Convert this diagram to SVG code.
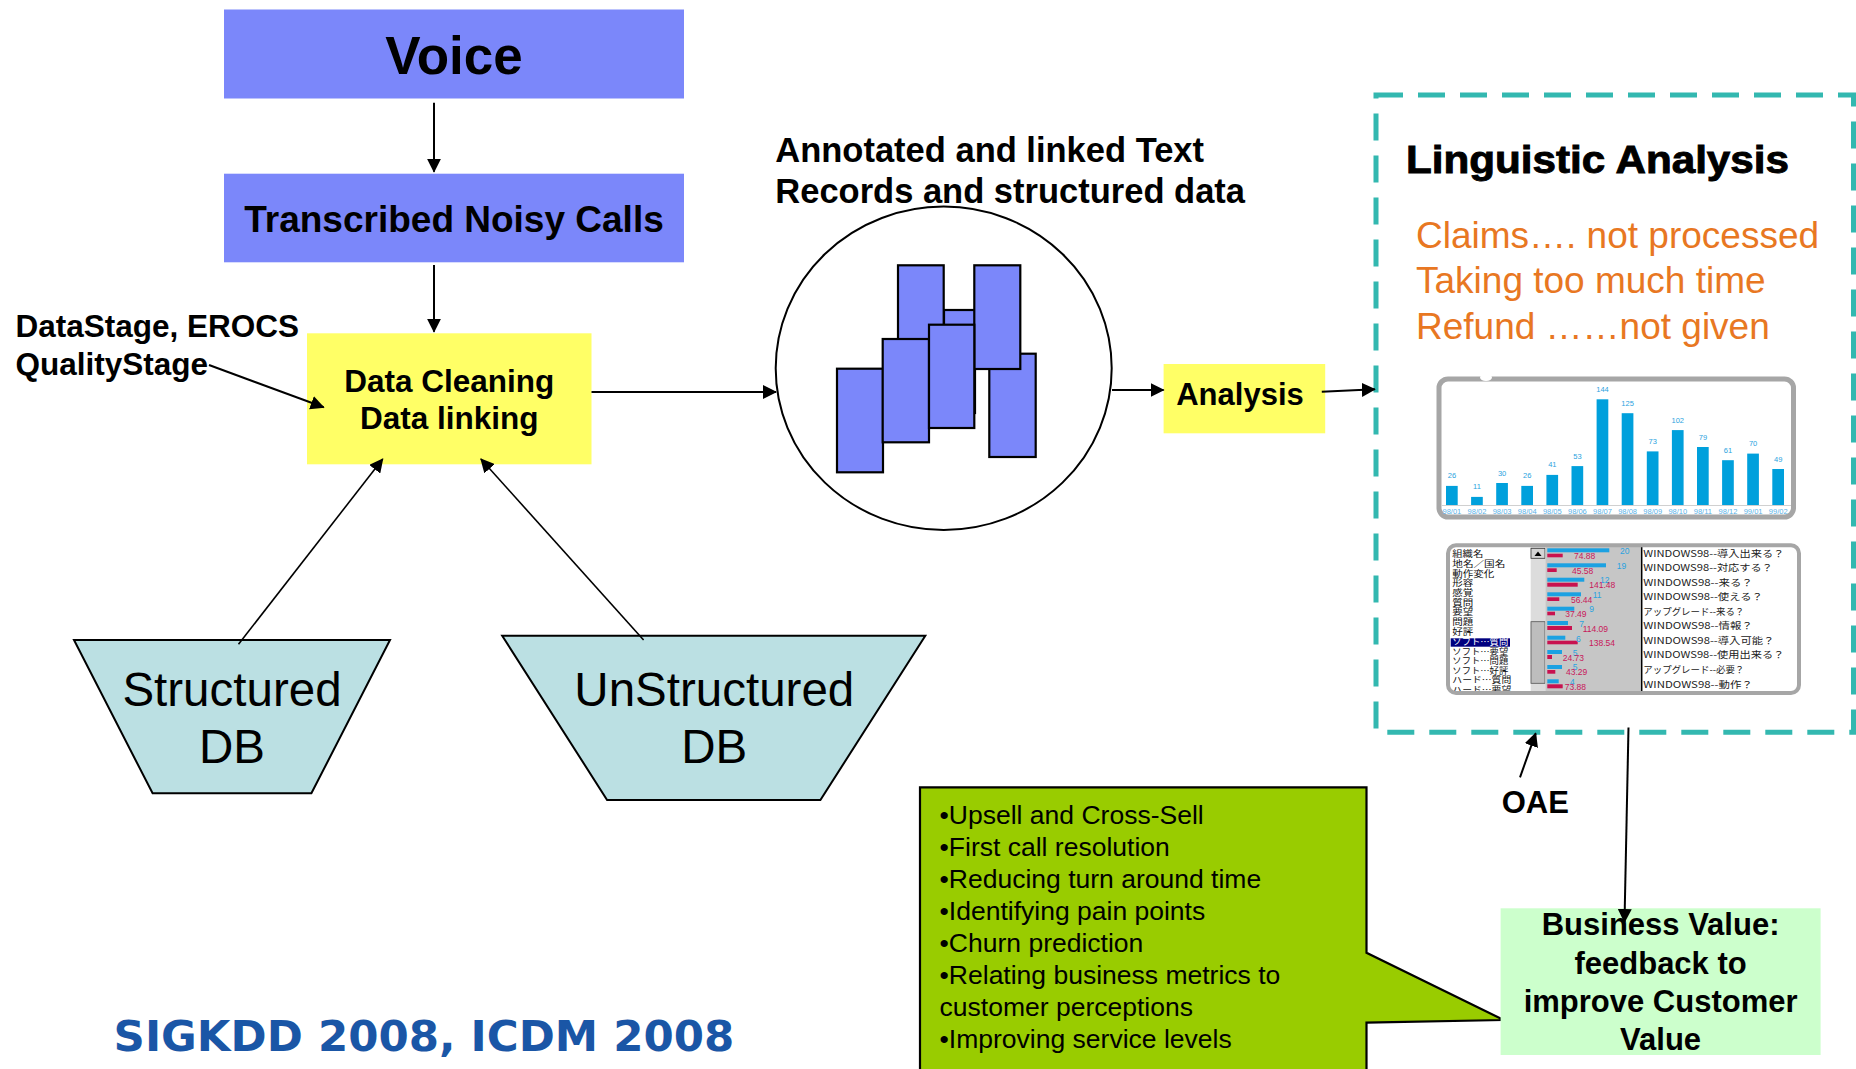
<svg xmlns="http://www.w3.org/2000/svg" width="1856" height="1069" viewBox="0 0 1856 1069">
  <style>
    .b { font-family: "Liberation Sans", Arial, sans-serif; font-weight: bold; fill: #000; }
    .r { font-family: "Liberation Sans", Arial, sans-serif; fill: #000; }
    .jp { font-family: "Noto Sans CJK JP", "Liberation Sans", sans-serif; }
    .blue { fill: #7b87fa; }
    .yellow { fill: #ffff66; }
    .db { fill: #bbe0e3; stroke: #000; stroke-width: 2; }
    .rec { fill: #7b87fa; stroke: #000; stroke-width: 2.2; }
    .ln { stroke: #000; stroke-width: 2; fill: none; }
    .thin { stroke: #000; stroke-width: 1.6; fill: none; }
    .orange { font-family: "Liberation Sans", Arial, sans-serif; fill: #e87722; font-size: 37px; }
    .bar { fill: #00a0dc; }
    .bv { font-family: "Liberation Sans", Arial, sans-serif; fill: #2aa3e0; font-size: 7.5px; text-anchor: middle; }
    .bx { font-family: "Liberation Sans", Arial, sans-serif; fill: #5ab2e8; font-size: 7.5px; text-anchor: middle; }
    .li { font-size: 8.6px; fill: #111; }
    .tb { fill: #1ba1e2; }
    .tr { fill: #c8124f; }
    .nb { font-family: "Liberation Sans", Arial, sans-serif; font-size: 8.5px; fill: #2aa3e0; }
    .nr { font-family: "Liberation Sans", Arial, sans-serif; font-size: 8.5px; fill: #c8185a; }
    .q { font-size: 9.5px; fill: #222; }
    .gl { font-size: 26.5px; }
  </style>
  <defs>
    <marker id="arr" markerWidth="14" markerHeight="14" refX="13" refY="7" orient="auto" markerUnits="userSpaceOnUse">
      <path d="M0,0 L14,7 L0,14 z" fill="#000"/>
    </marker>
    <clipPath id="tblclip">
      <rect x="1448" y="546" width="351" height="147"/>
    </clipPath>
  </defs>

  <rect width="1856" height="1069" fill="#fff"/>

  <!-- Voice -->
  <g id="voice">
    <rect class="blue" x="224" y="9.5" width="460" height="89"/>
    <text class="b" x="454" y="74" font-size="53" text-anchor="middle">Voice</text>
  </g>

  <!-- Transcribed Noisy Calls -->
  <g id="transcribed">
    <rect class="blue" x="224" y="173.7" width="460" height="88.6"/>
    <text class="b" x="454" y="231.7" font-size="37" text-anchor="middle">Transcribed Noisy Calls</text>
  </g>

  <!-- Data Cleaning / Data linking -->
  <g id="cleaning">
    <rect class="yellow" x="307" y="333.3" width="284.5" height="131"/>
    <text class="b" x="449.3" y="392" font-size="31.5" text-anchor="middle">Data Cleaning</text>
    <text class="b" x="449.3" y="429" font-size="31.5" text-anchor="middle">Data linking</text>
  </g>

  <!-- Tool label -->
  <g id="tools">
    <text class="b" x="15.5" y="337.3" font-size="31.5">DataStage, EROCS</text>
    <text class="b" x="15.5" y="375" font-size="31.5">QualityStage</text>
  </g>

  <!-- Structured DB -->
  <g id="structured-db">
    <polygon class="db" points="74,640 390,640 311.4,793.3 152.6,793.3"/>
    <text class="r" x="232" y="706" font-size="47.5" text-anchor="middle">Structured</text>
    <text class="r" x="232" y="763" font-size="47.5" text-anchor="middle">DB</text>
  </g>

  <!-- UnStructured DB -->
  <g id="unstructured-db">
    <polygon class="db" points="502.2,635.7 925.3,635.7 820.4,800 607.1,800"/>
    <text class="r" x="714.3" y="706" font-size="47.5" text-anchor="middle">UnStructured</text>
    <text class="r" x="714.3" y="763.3" font-size="47.5" text-anchor="middle">DB</text>
  </g>

  <!-- Annotated records -->
  <g id="records">
    <text class="b" x="775.3" y="161.7" font-size="34.5">Annotated and linked Text</text>
    <text class="b" x="775.3" y="202.7" font-size="34.5">Records and structured data</text>
    <ellipse cx="943.7" cy="368.3" rx="168" ry="161.7" fill="#fff" stroke="#000" stroke-width="2"/>
    <rect class="rec" x="944" y="310" width="31" height="103"/>
    <rect class="rec" x="898" y="265.3" width="45.7" height="140"/>
    <rect class="rec" x="989.3" y="353.7" width="46.4" height="103.3"/>
    <rect class="rec" x="974.3" y="265.3" width="46" height="103.7"/>
    <rect class="rec" x="837" y="368.7" width="46" height="103.6"/>
    <rect class="rec" x="882.7" y="339" width="46.3" height="103.3"/>
    <rect class="rec" x="929" y="324.7" width="45.3" height="103.3"/>
  </g>

  <!-- Analysis -->
  <g id="analysis">
    <rect class="yellow" x="1163.6" y="364" width="161.6" height="69.3"/>
    <text class="b" x="1240" y="405" font-size="31" text-anchor="middle">Analysis</text>
  </g>

  <!-- Linguistic Analysis panel -->
  <g id="linguistic">
    <rect x="1376" y="95" width="477.5" height="637.3" fill="none" stroke="#33b8b0" stroke-width="5" stroke-dasharray="27 15"/>
    <text class="b" x="1406" y="173.3" font-size="38" textLength="383" lengthAdjust="spacingAndGlyphs" stroke="#000" stroke-width="0.9">Linguistic Analysis</text>
    <text class="orange" x="1416" y="247.7">Claims…. not processed</text>
    <text class="orange" x="1416" y="293.3">Taking too much time</text>
    <text class="orange" x="1416" y="338.5">Refund ……not given</text>

    <!-- monthly bar chart -->
    <g id="chart">
      <rect x="1439" y="379" width="354.5" height="138" rx="9" fill="#fff" stroke="#a6a6a6" stroke-width="5"/>
      <ellipse cx="1486" cy="377.5" rx="6" ry="3.5" fill="#fff"/>
      <line x1="1442" y1="505.5" x2="1791" y2="505.5" stroke="#d0d0d0" stroke-width="1"/>
      <rect class="bar" x="1446" y="485.9" width="11.7" height="19.1"/>
      <rect class="bar" x="1471.1" y="496.9" width="11.7" height="8.1"/>
      <rect class="bar" x="1496.2" y="483" width="11.7" height="22"/>
      <rect class="bar" x="1521.3" y="485.9" width="11.7" height="19.1"/>
      <rect class="bar" x="1546.4" y="474.9" width="11.7" height="30.1"/>
      <rect class="bar" x="1571.5" y="466.1" width="11.7" height="38.9"/>
      <rect class="bar" x="1596.6" y="399.3" width="11.7" height="105.7"/>
      <rect class="bar" x="1621.7" y="413.2" width="11.7" height="91.8"/>
      <rect class="bar" x="1646.8" y="451.4" width="11.7" height="53.6"/>
      <rect class="bar" x="1671.9" y="430.1" width="11.7" height="74.9"/>
      <rect class="bar" x="1697" y="447" width="11.7" height="58"/>
      <rect class="bar" x="1722.1" y="460.2" width="11.7" height="44.8"/>
      <rect class="bar" x="1747.2" y="453.6" width="11.7" height="51.4"/>
      <rect class="bar" x="1772.3" y="469" width="11.7" height="36"/>
      <text class="bv" x="1451.9" y="478.4">26</text>
      <text class="bv" x="1477" y="489.4">11</text>
      <text class="bv" x="1502.1" y="475.5">30</text>
      <text class="bv" x="1527.2" y="478.4">26</text>
      <text class="bv" x="1552.3" y="467.4">41</text>
      <text class="bv" x="1577.4" y="458.6">53</text>
      <text class="bv" x="1602.5" y="391.8">144</text>
      <text class="bv" x="1627.6" y="405.7">125</text>
      <text class="bv" x="1652.7" y="443.9">73</text>
      <text class="bv" x="1677.8" y="422.6">102</text>
      <text class="bv" x="1702.9" y="439.5">79</text>
      <text class="bv" x="1728" y="452.7">61</text>
      <text class="bv" x="1753.1" y="446.1">70</text>
      <text class="bv" x="1778.2" y="461.5">49</text>
      <text class="bx" x="1451.9" y="514">98/01</text>
      <text class="bx" x="1477" y="514">98/02</text>
      <text class="bx" x="1502.1" y="514">98/03</text>
      <text class="bx" x="1527.2" y="514">98/04</text>
      <text class="bx" x="1552.3" y="514">98/05</text>
      <text class="bx" x="1577.4" y="514">98/06</text>
      <text class="bx" x="1602.5" y="514">98/07</text>
      <text class="bx" x="1627.6" y="514">98/08</text>
      <text class="bx" x="1652.7" y="514">98/09</text>
      <text class="bx" x="1677.8" y="514">98/10</text>
      <text class="bx" x="1702.9" y="514">98/11</text>
      <text class="bx" x="1728" y="514">98/12</text>
      <text class="bx" x="1753.1" y="514">99/01</text>
      <text class="bx" x="1778.2" y="514">99/02</text>
    </g>

    <!-- keyword frequency table -->
    <g id="table">
      <rect x="1448" y="545.3" width="351" height="147.7" rx="8" fill="#fff"/>
      <g clip-path="url(#tblclip)">
        <rect x="1530.7" y="546" width="14.6" height="147" fill="#dcdcdc"/>
        <rect x="1531" y="548.3" width="14" height="10" fill="#d4d4d4" stroke="#333" stroke-width="0.8"/>
        <path d="M1534.5,556 L1538,551.5 L1541.5,556 z" fill="#000"/>
        <rect x="1531" y="621.7" width="14" height="61.6" fill="#bdbdbd" stroke="#555" stroke-width="0.8"/>
        <rect x="1545.3" y="546" width="96.4" height="147" fill="#c6c6c6"/>
        <line x1="1641.7" y1="546" x2="1641.7" y2="693" stroke="#000" stroke-width="1.5"/>
        <rect x="1450.7" y="638.3" width="59.3" height="8.4" fill="#00007f"/>

        <text class="jp li" x="1452.3" y="557.4" textLength="31" lengthAdjust="spacingAndGlyphs">組織名</text>
        <text class="jp li" x="1452.3" y="567" textLength="53" lengthAdjust="spacingAndGlyphs">地名／国名</text>
        <text class="jp li" x="1452.3" y="576.7" textLength="42" lengthAdjust="spacingAndGlyphs">動作変化</text>
        <text class="jp li" x="1452.3" y="586.3" textLength="21" lengthAdjust="spacingAndGlyphs">形容</text>
        <text class="jp li" x="1452.3" y="596" textLength="21" lengthAdjust="spacingAndGlyphs">感覚</text>
        <text class="jp li" x="1452.3" y="605.6" textLength="21" lengthAdjust="spacingAndGlyphs">質問</text>
        <text class="jp li" x="1452.3" y="615.3" textLength="21" lengthAdjust="spacingAndGlyphs">要望</text>
        <text class="jp li" x="1452.3" y="625" textLength="21" lengthAdjust="spacingAndGlyphs">問題</text>
        <text class="jp li" x="1452.3" y="634.6" textLength="21" lengthAdjust="spacingAndGlyphs">好評</text>
        <text class="jp li" x="1452.3" y="645" textLength="56" lengthAdjust="spacingAndGlyphs" style="fill:#fff">ソフト…質問</text>
        <text class="jp li" x="1452.3" y="654.5" textLength="56" lengthAdjust="spacingAndGlyphs">ソフト…要望</text>
        <text class="jp li" x="1452.3" y="664.1" textLength="56" lengthAdjust="spacingAndGlyphs">ソフト…問題</text>
        <text class="jp li" x="1452.3" y="673.8" textLength="56" lengthAdjust="spacingAndGlyphs">ソフト…好評</text>
        <text class="jp li" x="1452.3" y="683.4" textLength="59" lengthAdjust="spacingAndGlyphs">ハード…質問</text>
        <text class="jp li" x="1452.3" y="693" textLength="59" lengthAdjust="spacingAndGlyphs">ハード…要望</text>

        <rect class="tb" x="1547.3" y="548.3" width="62" height="4"/>
        <rect class="tr" x="1547.3" y="553.7" width="15.4" height="3.6"/>
        <text class="nb" x="1620" y="554">20</text>
        <text class="nr" x="1574" y="559">74.88</text>

        <rect class="tb" x="1547.3" y="563.3" width="58.7" height="4"/>
        <rect class="tr" x="1547.3" y="568.3" width="9.4" height="3.7"/>
        <text class="nb" x="1616.7" y="569">19</text>
        <text class="nr" x="1572" y="573.7">45.58</text>

        <rect class="tb" x="1547.3" y="577.7" width="37" height="4"/>
        <rect class="tr" x="1547.3" y="582.7" width="30.4" height="4"/>
        <text class="nb" x="1600" y="583.3">12</text>
        <text class="nr" x="1589.3" y="588.3">141.48</text>

        <rect class="tb" x="1547.3" y="592.3" width="33.7" height="4"/>
        <rect class="tr" x="1547.3" y="597.3" width="12" height="3.7"/>
        <text class="nb" x="1592.7" y="598.3">11</text>
        <text class="nr" x="1571" y="603">56.44</text>

        <rect class="tb" x="1547.3" y="606.7" width="27" height="4"/>
        <rect class="tr" x="1547.3" y="611.7" width="7.7" height="3.6"/>
        <text class="nb" x="1589.3" y="612.3">9</text>
        <text class="nr" x="1565.3" y="617">37.49</text>

        <rect class="tb" x="1547.3" y="621" width="20.7" height="4"/>
        <rect class="tr" x="1547.3" y="626" width="24.7" height="4"/>
        <text class="nb" x="1579.3" y="627">7</text>
        <text class="nr" x="1582.7" y="632">114.09</text>

        <rect class="tb" x="1547.3" y="635.7" width="18" height="4"/>
        <rect class="tr" x="1547.3" y="640.7" width="30.4" height="3.6"/>
        <text class="nb" x="1576" y="641.7">6</text>
        <text class="nr" x="1589" y="646">138.54</text>

        <rect class="tb" x="1547.3" y="650" width="14.7" height="4"/>
        <rect class="tr" x="1547.3" y="655" width="4.7" height="4"/>
        <text class="nb" x="1572.7" y="656">5</text>
        <text class="nr" x="1562.7" y="660.7">24.73</text>

        <rect class="tb" x="1547.3" y="665" width="14.7" height="4"/>
        <rect class="tr" x="1547.3" y="670" width="8" height="3.7"/>
        <text class="nb" x="1572.7" y="670.3">5</text>
        <text class="nr" x="1566" y="675">43.29</text>

        <rect class="tb" x="1547.3" y="679.3" width="11.4" height="4"/>
        <rect class="tr" x="1547.3" y="684.3" width="15.4" height="4"/>
        <text class="nb" x="1570" y="684.7">4</text>
        <text class="nr" x="1564.7" y="689.7">73.88</text>

        <text class="jp q" x="1643.3" y="556.7" textLength="141" lengthAdjust="spacingAndGlyphs">WINDOWS98--導入出来る？</text>
        <text class="jp q" x="1643.3" y="571" textLength="129.5" lengthAdjust="spacingAndGlyphs">WINDOWS98--対応する？</text>
        <text class="jp q" x="1643.3" y="585.7" textLength="109.5" lengthAdjust="spacingAndGlyphs">WINDOWS98--来る？</text>
        <text class="jp q" x="1643.3" y="600.3" textLength="119.5" lengthAdjust="spacingAndGlyphs">WINDOWS98--使える？</text>
        <text class="jp q" x="1643.3" y="615" textLength="101" lengthAdjust="spacingAndGlyphs">アップグレード--来る？</text>
        <text class="jp q" x="1643.3" y="629.3" textLength="109.5" lengthAdjust="spacingAndGlyphs">WINDOWS98--情報？</text>
        <text class="jp q" x="1643.3" y="644" textLength="131" lengthAdjust="spacingAndGlyphs">WINDOWS98--導入可能？</text>
        <text class="jp q" x="1643.3" y="658.3" textLength="141" lengthAdjust="spacingAndGlyphs">WINDOWS98--使用出来る？</text>
        <text class="jp q" x="1643.3" y="673.3" textLength="101" lengthAdjust="spacingAndGlyphs">アップグレード--必要？</text>
        <text class="jp q" x="1643.3" y="687.7" textLength="109.5" lengthAdjust="spacingAndGlyphs">WINDOWS98--動作？</text>
      </g>
      <rect x="1448" y="545.3" width="351" height="147.7" rx="8" fill="none" stroke="#a6a6a6" stroke-width="4"/>
    </g>
  </g>

  <!-- OAE label -->
  <g id="oae">
    <text class="b" x="1501.7" y="813.3" font-size="31">OAE</text>
  </g>

  <!-- Benefits callout -->
  <g id="benefits">
    <path d="M920,787.3 L1366.5,787.3 L1366.5,952.7 L1503.7,1020 L1366.5,1022.7 L1366.5,1075 L920,1075 Z" fill="#99cc00" stroke="#000" stroke-width="2.2"/>
    <text class="r gl" x="939.6" y="824">•Upsell and Cross-Sell</text>
    <text class="r gl" x="939.6" y="856">•First call resolution</text>
    <text class="r gl" x="939.6" y="888">•Reducing turn around time</text>
    <text class="r gl" x="939.6" y="920">•Identifying pain points</text>
    <text class="r gl" x="939.6" y="952">•Churn prediction</text>
    <text class="r gl" x="939.6" y="984">•Relating business metrics to</text>
    <text class="r gl" x="939.6" y="1016">customer perceptions</text>
    <text class="r gl" x="939.6" y="1048">•Improving service levels</text>
  </g>

  <!-- Business Value -->
  <g id="business-value">
    <rect x="1500.6" y="908.3" width="320" height="146.7" fill="#ccffcc"/>
    <text class="b" x="1660.6" y="935" font-size="31" text-anchor="middle">Business Value:</text>
    <text class="b" x="1660.6" y="974" font-size="31" text-anchor="middle">feedback to</text>
    <text class="b" x="1660.6" y="1012" font-size="31" text-anchor="middle">improve Customer</text>
    <text class="b" x="1660.6" y="1050" font-size="31" text-anchor="middle">Value</text>
  </g>

  <!-- SIGKDD -->
  <g id="venues">
    <text x="113.6" y="1050.7" font-family="'DejaVu Sans', Verdana, sans-serif" font-weight="bold" font-size="43.5" fill="#1a56a6">SIGKDD 2008, ICDM 2008</text>
  </g>

  <!-- Connectors -->
  <g id="connectors">
    <line class="ln" x1="434" y1="102.7" x2="434" y2="171.7" marker-end="url(#arr)"/>
    <line class="ln" x1="434" y1="265" x2="434" y2="331.7" marker-end="url(#arr)"/>
    <line class="ln" x1="209" y1="365" x2="323.7" y2="407.3" marker-end="url(#arr)"/>
    <line class="ln" x1="591.5" y1="392" x2="776" y2="392" marker-end="url(#arr)"/>
    <line class="ln" x1="1112" y1="390" x2="1163.6" y2="390" marker-end="url(#arr)"/>
    <line class="ln" x1="1321.8" y1="391.7" x2="1374.8" y2="389.3" marker-end="url(#arr)"/>
    <line class="thin" x1="238.5" y1="644.3" x2="382.7" y2="459" marker-end="url(#arr)"/>
    <line class="thin" x1="643.6" y1="640" x2="480.9" y2="459" marker-end="url(#arr)"/>
    <line class="ln" x1="1520" y1="777.3" x2="1535.7" y2="733.3" marker-end="url(#arr)"/>
    <line class="ln" x1="1628.5" y1="727.5" x2="1624.5" y2="922" marker-end="url(#arr)"/>
  </g>
</svg>
